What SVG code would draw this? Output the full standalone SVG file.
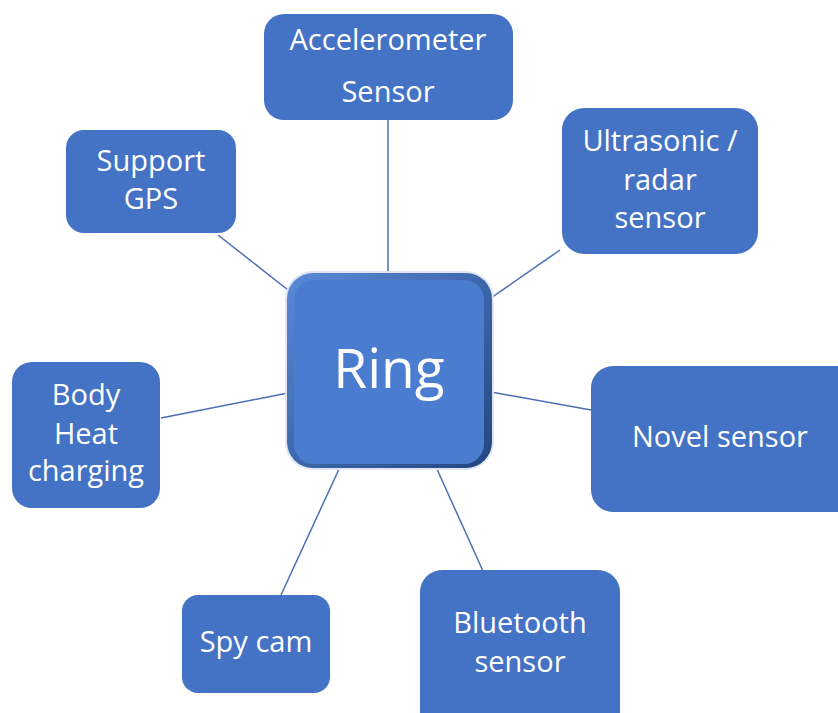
<svg xmlns="http://www.w3.org/2000/svg" width="838" height="713" viewBox="0 0 838 713">
<defs>
<style>
.box{fill:#4472C4}
.t{font-family:"Open Sans","Noto Sans",sans-serif;font-size:29px;fill:#fff;text-anchor:middle}
.c{stroke:#4A6FB5;stroke-width:1.5;fill:none}
</style>
<linearGradient id="rim" x1="0" y1="0" x2="1" y2="1">
<stop offset="0" stop-color="#5a8ad8"/>
<stop offset="1" stop-color="#22467f"/>
</linearGradient>
</defs>
<rect width="838" height="713" fill="#fff"/>
<g id="connectors">
<line class="c" x1="388" y1="120" x2="388" y2="274"/>
<line class="c" x1="218" y1="235" x2="288" y2="290"/>
<line class="c" x1="560" y1="250" x2="491" y2="298"/>
<line class="c" x1="161" y1="418" x2="288" y2="393"/>
<line class="c" x1="491" y1="392" x2="591" y2="410"/>
<line class="c" x1="281" y1="595" x2="340" y2="467"/>
<line class="c" x1="483" y1="571" x2="436" y2="467"/>
</g>
<g id="accelerometer">
<rect class="box" x="264" y="14" width="249" height="106" rx="20"/>
<text class="t" x="388" y="50">Accelerometer</text>
<text class="t" x="388" y="102">Sensor</text>
</g>
<g id="gps">
<rect class="box" x="66" y="130" width="170" height="103" rx="18"/>
<text class="t" x="151" y="171">Support</text>
<text class="t" x="151" y="209">GPS</text>
</g>
<g id="ultrasonic">
<rect class="box" x="562" y="108" width="196" height="146" rx="22"/>
<text class="t" x="660" y="151">Ultrasonic /</text>
<text class="t" x="660" y="190">radar</text>
<text class="t" x="660" y="228">sensor</text>
</g>
<g id="ring">
<rect x="285" y="271" width="209" height="199" rx="28" fill="#dfe6f2"/>
<rect x="287" y="273" width="205" height="195" rx="26" fill="url(#rim)"/>
<rect x="294" y="280" width="190" height="184" rx="20" fill="#4A7CCF"/>
<text x="389" y="388" font-family="Open Sans, Noto Sans, sans-serif" font-size="55" fill="#fff" text-anchor="middle">Ring</text>
</g>
<g id="bodyheat">
<rect class="box" x="12" y="362" width="148" height="146" rx="20"/>
<text class="t" x="86" y="405">Body</text>
<text class="t" x="86" y="444">Heat</text>
<text class="t" x="86" y="481">charging</text>
</g>
<g id="novel">
<rect class="box" x="591" y="366" width="270" height="146" rx="22"/>
<text class="t" x="720" y="447">Novel sensor</text>
</g>
<g id="spycam">
<rect class="box" x="182" y="595" width="148" height="98" rx="16"/>
<text class="t" x="256" y="652">Spy cam</text>
</g>
<g id="bluetooth">
<rect class="box" x="420" y="570" width="200" height="170" rx="22"/>
<text class="t" x="520" y="633">Bluetooth</text>
<text class="t" x="520" y="672">sensor</text>
</g>
</svg>
